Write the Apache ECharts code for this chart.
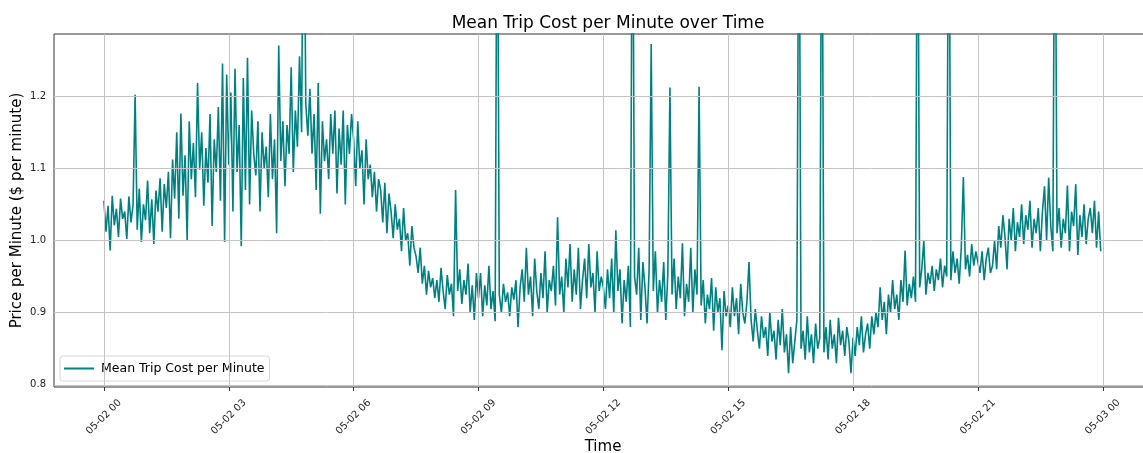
<!DOCTYPE html>
<html>
<head>
    <meta charset="utf-8">
    <script src="https://cdn.jsdelivr.net/npm/echarts@6/dist/echarts.min.js"></script>
    <style>
        html, body {
            margin: 0;
            padding: 0;
            background: #FFFFFF;
        }
        .chart-wrapper {
            width: 1143px;
            height: 453px;
        }
    </style>
</head>
<body>
<div class="chart-wrapper" id="lineChart"></div>

<script>
    // one reading every 3 minutes, x is minutes since 05-02 00:00
    let stepMinutes = 3;

    let cost00to03 = [
        1.055, 1.012, 1.048, 0.986, 1.062, 1.021, 1.044, 1.005, 1.058, 1.030,
        1.040, 1.002, 1.061, 1.025, 1.049, 1.202, 1.015, 1.072, 0.998, 1.050,
        1.028, 1.083, 1.010, 1.057, 0.995, 1.069, 1.040, 1.086, 1.012, 1.078,
        1.045, 1.095, 1.003, 1.112, 1.058, 1.150, 1.030, 1.176, 1.062, 1.118,
        1.000, 1.165, 1.085, 1.135, 1.060, 1.218, 1.098, 1.150, 1.048, 1.128,
        1.080, 1.175, 1.020, 1.140, 1.095, 1.185, 1.055, 1.245, 0.998, 1.230
    ];
    let cost03to06 = [
        1.105, 1.205, 1.040, 1.238, 1.095, 1.160, 0.992, 1.225, 1.070, 1.253,
        1.050, 1.180, 1.120, 1.090, 1.165, 1.040, 1.150, 1.100, 1.130, 1.060,
        1.175, 1.085, 1.140, 1.010, 1.270, 1.110, 1.165, 1.075, 1.160, 1.120,
        1.240, 1.095, 1.180, 1.130, 1.255, 1.150, 1.600, 1.190, 1.145, 1.210,
        1.120, 1.175, 1.070, 1.218, 1.037, 1.165, 1.110, 1.140, 1.085, 1.175,
        1.120, 1.180, 1.065, 1.155, 1.105, 1.180, 1.050, 1.160, 1.120, 1.175
    ];
    let cost06to09 = [
        1.140, 1.075, 1.165, 1.100, 1.125, 1.050, 1.140, 1.085, 1.105, 1.060,
        1.095, 1.040, 1.085, 1.070, 1.025, 1.080, 1.010, 1.065, 1.040, 1.003,
        1.050, 1.015, 1.030, 0.985, 1.045, 1.000, 1.010, 0.965, 1.020, 0.990,
        0.978, 0.955, 0.990, 0.940, 0.965, 0.925, 0.958, 0.935, 0.948, 0.920,
        0.945, 0.915, 0.962, 0.930, 0.905, 0.952, 0.925, 0.940, 0.895, 1.070,
        0.930, 0.960, 0.912, 0.945, 0.925, 0.968, 0.900, 0.938, 0.890, 0.955
    ];
    let cost09to12 = [
        0.920, 0.955, 0.895, 0.938, 0.910, 0.965, 0.905, 0.930, 0.888, 1.600,
        0.925, 0.900, 0.940, 0.915, 0.928, 0.895, 0.935, 0.918, 0.945, 0.880,
        0.935, 0.960, 0.915, 0.990, 0.925, 0.950, 0.895, 0.975, 0.930, 0.905,
        0.955, 0.920, 0.985, 0.900, 0.945, 0.930, 0.965, 0.910, 1.032, 0.925,
        0.950, 0.900, 0.975, 0.935, 0.995, 0.915, 0.960, 0.925, 0.990, 0.905,
        0.945, 0.975, 0.920, 0.995, 0.935, 0.955, 0.900, 0.985, 0.930, 0.950
    ];
    let cost12to15 = [
        0.935, 0.905, 0.960, 0.920, 0.975, 0.900, 1.014, 0.930, 0.960, 0.885,
        0.945, 0.915, 0.965, 0.880, 1.600, 0.950, 0.925, 0.990, 0.890, 0.970,
        0.935, 0.885, 0.960, 1.272, 0.930, 0.985, 0.900, 0.945, 0.915, 0.970,
        0.890, 0.955, 1.212, 0.925, 0.975, 0.905, 0.950, 0.920, 0.996, 0.895,
        0.940, 0.915, 0.990, 0.900, 0.960, 0.925, 1.213, 0.910, 0.945, 0.885,
        0.925, 0.905, 0.948, 0.875, 0.935, 0.900, 0.920, 0.848, 0.930, 0.895
    ];
    let cost15to18 = [
        0.910, 0.880, 0.935, 0.895, 0.920, 0.870, 0.940, 0.900, 0.885, 0.915,
        0.970, 0.890, 0.860, 0.905, 0.875, 0.850, 0.895, 0.865, 0.880, 0.840,
        0.900, 0.860, 0.875, 0.835, 0.890, 0.855, 0.905, 0.845, 0.870, 0.816,
        0.880, 0.830, 0.860, 0.890, 1.600, 0.850, 0.875, 0.835, 0.895, 0.845,
        0.870, 0.830, 0.885, 0.850, 0.865, 1.600, 0.845, 0.880, 0.835, 0.890,
        0.850, 0.870, 0.830, 0.893, 0.855, 0.875, 0.840, 0.880, 0.860, 0.816
    ];
    let cost18to21 = [
        0.865, 0.840, 0.880, 0.855, 0.895, 0.845, 0.870, 0.885, 0.850, 0.895,
        0.870, 0.900, 0.880, 0.935, 0.890, 0.915, 0.870, 0.925, 0.900, 0.945,
        0.905, 0.925, 0.890, 0.945, 0.915, 0.986, 0.910, 0.940, 0.920, 0.950,
        0.915, 1.600, 0.935, 0.960, 1.000, 0.925, 0.955, 0.940, 0.965, 0.930,
        0.960, 0.945, 0.975, 0.935, 0.965, 0.950, 1.600, 0.945, 0.985, 0.955,
        0.975, 0.940, 0.990, 1.088, 0.960, 0.980, 0.950, 0.995, 0.965, 0.985
    ];
    let cost21to24 = [
        0.970, 0.955, 0.985, 0.945, 0.975, 0.990, 0.955, 0.965, 1.000, 0.960,
        1.020, 0.990, 1.035, 1.005, 0.960, 1.030, 1.000, 1.045, 0.985, 1.025,
        1.005, 1.050, 0.995, 1.035, 1.015, 1.055, 0.990, 1.030, 1.010, 1.045,
        0.985, 1.040, 1.075, 1.000, 1.087, 1.020, 0.985, 1.600, 1.010, 1.045,
        0.990, 1.030, 1.010, 1.076, 0.985, 1.040, 1.020, 1.078, 0.980, 1.035,
        1.005, 1.050, 0.995, 1.030, 1.045, 1.010, 1.055, 0.990, 1.040, 0.985
    ];

    let xTickMinutes = [0, 180, 360, 540, 720, 900, 1080, 1260, 1440];
    let xTickLabels = ['05-02 00', '05-02 03', '05-02 06', '05-02 09', '05-02 12',
        '05-02 15', '05-02 18', '05-02 21', '05-03 00'];
    let yTicks = [0.8, 0.9, 1.0, 1.1, 1.2];

    let costs = [].concat(cost00to03, cost03to06, cost06to09, cost09to12,
        cost12to15, cost15to18, cost18to21, cost21to24);

    let seriesData = [];
    for (let i = 0; i < costs.length; i++) {
        seriesData.push([i * stepMinutes, costs[i]]);
    }

    let lastMinute = 24 * 60 - 1;
    let xPad = lastMinute * 0.05;

    let gridLines = [];
    for (let i = 0; i < yTicks.length; i++) {
        gridLines.push({yAxis: yTicks[i]});
    }
    for (let i = 0; i < xTickMinutes.length; i++) {
        gridLines.push({xAxis: xTickMinutes[i]});
    }

    let font = "'DejaVu Sans', sans-serif";

    let option = {
        animation: false,
        textStyle: {
            fontFamily: font
        },
        title: {
            text: 'Mean Trip Cost per Minute over Time',
            left: 603,
            textAlign: 'center',
            top: 10,
            textStyle: {
                fontFamily: font,
                fontSize: 17,
                fontWeight: 'normal',
                color: '#000000'
            }
        },
        grid: {
            show: true,
            left: 54,
            top: 34,
            right: -9,
            bottom: 66,
            containLabel: false,
            outerBoundsMode: 'none',
            borderColor: '#333333',
            borderWidth: 1,
            backgroundColor: 'transparent'
        },
        legend: {
            data: ['Mean Trip Cost per Minute'],
            left: 60,
            top: 356,
            padding: [6, 5, 6, 4],
            icon: 'rect',
            itemWidth: 30,
            itemHeight: 2,
            itemGap: 6,
            backgroundColor: 'rgba(255,255,255,0.85)',
            borderColor: '#d6d6d6',
            borderWidth: 1,
            borderRadius: 3,
            textStyle: {
                fontFamily: font,
                fontSize: 12.5,
                color: '#000000',
                padding: [0, 0, 0, 2]
            }
        },
        xAxis: {
            type: 'value',
            min: -xPad,
            max: lastMinute + xPad,
            name: 'Time',
            nameLocation: 'middle',
            nameGap: 53,
            nameMoveOverlap: false,
            nameTextStyle: {
                fontFamily: font,
                fontSize: 15,
                color: '#000000'
            },
            axisLine: {show: false},
            axisTick: {
                show: true,
                length: 4,
                customValues: xTickMinutes,
                lineStyle: {color: '#333333'}
            },
            axisLabel: {
                customValues: xTickMinutes,
                rotate: 45,
                align: 'center',
                verticalAlign: 'middle',
                margin: 30,
                fontFamily: font,
                fontSize: 10,
                color: '#222222',
                formatter: function (value) {
                    let idx = xTickMinutes.indexOf(value);
                    return idx >= 0 ? xTickLabels[idx] : '';
                }
            },
            splitLine: {show: false}
        },
        yAxis: {
            type: 'value',
            min: 0.797,
            max: 1.286,
            name: 'Price per Minute ($ per minute)',
            nameLocation: 'middle',
            nameRotate: 90,
            nameGap: 29,
            nameMoveOverlap: false,
            nameTextStyle: {
                fontFamily: font,
                fontSize: 15,
                color: '#000000'
            },
            axisLine: {show: false},
            axisTick: {
                show: true,
                length: 4,
                customValues: yTicks,
                lineStyle: {color: '#333333'}
            },
            axisLabel: {
                customValues: yTicks,
                margin: 8,
                fontFamily: font,
                fontSize: 10,
                color: '#222222',
                formatter: function (value) {
                    return value.toFixed(1);
                }
            },
            splitLine: {show: false}
        },
        series: [
            {
                name: 'grid',
                type: 'line',
                data: [],
                z: 0,
                silent: true,
                markLine: {
                    silent: true,
                    symbol: ['none', 'none'],
                    label: {show: false},
                    lineStyle: {
                        color: '#c4c4c4',
                        width: 1,
                        type: 'solid'
                    },
                    data: gridLines
                }
            },
            {
                name: 'Mean Trip Cost per Minute',
                type: 'line',
                data: seriesData,
                z: 3,
                symbol: 'none',
                showSymbol: false,
                clip: true,
                color: '#008080',
                lineStyle: {
                    color: '#008080',
                    width: 1.6
                }
            }
        ]
    };

    let myChart = echarts.init(document.getElementById('lineChart'));
    myChart.setOption(option);
</script>
</body>
</html>
